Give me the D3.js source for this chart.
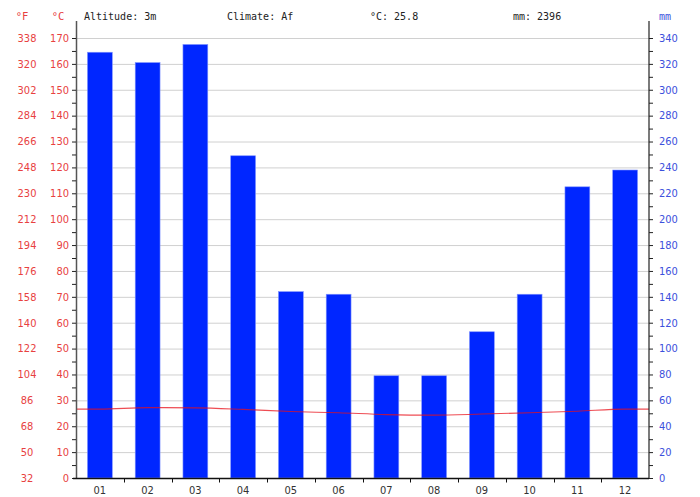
<!DOCTYPE html>
<html>
<head>
<meta charset="utf-8">
<script src="https://cdn.jsdelivr.net/npm/d3@7/dist/d3.min.js"></script>
<style>
  body { margin: 0; background: #fff; }
  svg { display: block; font-family: "DejaVu Sans Condensed", "DejaVu Sans", sans-serif; font-stretch: condensed; }
</style>
</head>
<body>
<div id="chart"></div>
<script>
// monthly climate data
const months = ["01", "02", "03", "04", "05", "06", "07", "08", "09", "10", "11", "12"];
const precipitation = [329, 321, 335, 249, 144, 142, 79, 79, 113, 142, 225, 238]; // mm
const temperature = [26.6, 27.2, 27.1, 26.5, 25.7, 25.2, 24.5, 24.3, 24.7, 25.2, 25.8, 26.6]; // °C
const celsiusTicks = d3.range(0, 171, 10);
const mmTicks = d3.range(0, 341, 20);
const header = ["Altitude: 3m", "Climate: Af", "°C: 25.8", "mm: 2396"];

const width = 700, height = 497;
const margin = { top: 38, right: 51, bottom: 19, left: 76 };

const svg = d3.select("#chart").append("svg")
    .attr("width", width)
    .attr("height", height);

const x = d3.scaleBand()
    .domain(months)
    .range([margin.left, width - margin.right])
    .paddingInner(0.48)
    .paddingOuter(0.24);

const yC = d3.scaleLinear().domain([0, 170]).range([height - margin.bottom, margin.top]);
const yMM = d3.scaleLinear().domain([0, 340]).range([height - margin.bottom, margin.top]);

// grid lines
svg.append("g")
    .selectAll("line")
    .data(celsiusTicks.slice(1))
    .join("line")
    .attr("x1", margin.left)
    .attr("x2", width - margin.right)
    .attr("y1", d => yC(d) + 0.5)
    .attr("y2", d => yC(d) + 0.5)
    .attr("stroke", "#d0d0d0")
    .attr("stroke-width", 1);

// bars
svg.append("g")
    .selectAll("rect")
    .data(months)
    .join("rect")
    .attr("x", d => x(d))
    .attr("width", x.bandwidth())
    .attr("y", (d, i) => yMM(precipitation[i]))
    .attr("height", (d, i) => yMM(0) - yMM(precipitation[i]))
    .attr("fill", "#0026ff")
    .attr("stroke", "#7f93ff")
    .attr("stroke-width", 0.6);

// temperature line, stretched to the edges of the plot
const linePts = [[margin.left, temperature[0]]]
    .concat(months.map((m, i) => [x(m) + x.bandwidth() / 2, temperature[i]]))
    .concat([[width - margin.right, temperature[11]]]);

svg.append("path")
    .datum(linePts)
    .attr("fill", "none")
    .attr("stroke", "#e8101a")
    .attr("stroke-opacity", 0.75)
    .attr("stroke-width", 1.1)
    .attr("d", d3.line()
        .x(d => d[0])
        .y(d => yC(d[1]))
        .curve(d3.curveMonotoneX));

// left axis (°C), with minor ticks
const leftAxis = svg.append("g")
    .attr("transform", `translate(${margin.left},0)`);
leftAxis.append("line")
    .attr("x1", 0.5).attr("x2", 0.5)
    .attr("y1", 21).attr("y2", yC(0))
    .attr("stroke", "#555").attr("stroke-width", 1.5);
leftAxis.selectAll(".tk")
    .data(d3.range(0, 171, 5))
    .join("line")
    .attr("x1", -4).attr("x2", 0)
    .attr("y1", d => yC(d) + 0.5).attr("y2", d => yC(d) + 0.5)
    .attr("stroke", "#222");
leftAxis.selectAll(".c")
    .data(celsiusTicks)
    .join("text")
    .attr("x", -7)
    .attr("y", d => yC(d))
    .attr("dy", "0.35em")
    .attr("text-anchor", "end")
    .attr("fill", "#e8413f")
    .attr("font-size", 11)
    .text(d => d);
leftAxis.selectAll(".f")
    .data(celsiusTicks)
    .join("text")
    .attr("x", -49)
    .attr("y", d => yC(d))
    .attr("dy", "0.35em")
    .attr("text-anchor", "middle")
    .attr("fill", "#e8413f")
    .attr("font-size", 11)
    .text(d => Math.round(d * 9 / 5 + 32));

// right axis (mm)
const rightAxis = svg.append("g")
    .attr("transform", `translate(${width - margin.right},0)`);
rightAxis.append("line")
    .attr("x1", 0).attr("x2", 0)
    .attr("y1", 21).attr("y2", yMM(0))
    .attr("stroke", "#222").attr("stroke-width", 1.2);
rightAxis.selectAll(".tk")
    .data(d3.range(0, 341, 10))
    .join("line")
    .attr("x1", 0).attr("x2", 4)
    .attr("y1", d => yMM(d) + 0.5).attr("y2", d => yMM(d) + 0.5)
    .attr("stroke", "#222");
rightAxis.selectAll(".mm")
    .data(mmTicks)
    .join("text")
    .attr("x", 10)
    .attr("y", d => yMM(d))
    .attr("dy", "0.35em")
    .attr("fill", "#3c50dc")
    .attr("font-size", 11)
    .text(d => d);

// bottom axis
const bottom = svg.append("g")
    .attr("transform", `translate(0,${yC(0) + 0.5})`);
bottom.append("line")
    .attr("x1", margin.left - 3).attr("x2", width - margin.right)
    .attr("stroke", "#111").attr("stroke-width", 1.5);
bottom.selectAll(".tk")
    .data(months.slice(1))
    .join("line")
    .attr("x1", d => Math.round(x(d) - x.step() * x.paddingInner() / 2) + 0.5)
    .attr("x2", d => Math.round(x(d) - x.step() * x.paddingInner() / 2) + 0.5)
    .attr("y1", 0).attr("y2", 4)
    .attr("stroke", "#111");
bottom.selectAll("text")
    .data(months)
    .join("text")
    .attr("x", d => x(d) + x.bandwidth() / 2)
    .attr("y", 15)
    .attr("text-anchor", "middle")
    .attr("fill", "#333")
    .attr("font-size", 11)
    .text(d => d);

// header
const mono = "'DejaVu Sans Mono', monospace";
svg.append("text").attr("x", 22).attr("y", 20).attr("text-anchor", "middle")
    .attr("font-family", mono).attr("fill", "#e8413f").attr("font-size", 10.5).text("°F");
svg.append("text").attr("x", 58).attr("y", 20).attr("text-anchor", "middle")
    .attr("font-family", mono).attr("fill", "#e8413f").attr("font-size", 10.5).text("°C");
svg.append("text").attr("x", 659).attr("y", 20)
    .attr("font-family", mono).attr("fill", "#3c50dc").attr("font-size", 10).text("mm");
svg.append("g")
    .selectAll("text")
    .data(header)
    .join("text")
    .attr("x", (d, i) => 84 + i * 143)
    .attr("y", 20)
    .attr("font-family", mono)
    .attr("font-size", 10)
    .attr("fill", "#222")
    .text(d => d);
</script>
</body>
</html>
